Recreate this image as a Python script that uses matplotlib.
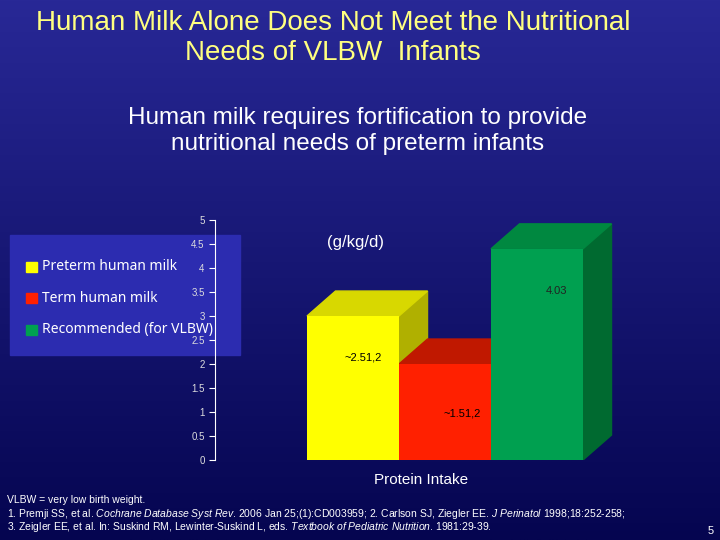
import matplotlib
matplotlib.use("Agg")
import matplotlib.pyplot as plt
import numpy as np
from matplotlib.patches import Polygon, Rectangle

plt.rcParams['font.family'] = ['Liberation Sans', 'DejaVu Sans']
plt.rcParams['mathtext.fontset'] = 'custom'
plt.rcParams['mathtext.rm'] = 'Liberation Sans'
plt.rcParams['mathtext.it'] = 'Liberation Sans:italic'

categories = ["Preterm human milk", "Term human milk", "Recommended (for VLBW)"]
values = [3.0, 2.0, 4.4]
labels = ["~2.51,2", "~1.51,2", "4.03"]
front = ["#ffff00", "#ff2000", "#00a050"]
side = ["#b0b000", "#a01000", "#006a30"]
top = ["#d8d800", "#c01800", "#008840"]
yticks = [0, 0.5, 1, 1.5, 2, 2.5, 3, 3.5, 4, 4.5, 5]

W, H = 720, 540
fig = plt.figure(figsize=(7.2, 5.4), dpi=100)

bg = fig.add_axes([0, 0, 1, 1])
g = np.linspace(0, 1, 256)[:, None]
c0 = np.array([40, 40, 150]) / 255
c1 = np.array([5, 5, 80]) / 255
img = c0[None, None, :] * (1 - g[..., None]) + c1[None, None, :] * g[..., None]
img = np.repeat(img, 2, axis=1)
bg.imshow(img, aspect='auto', extent=[0, 1, 0, 1])
bg.set_xlim(0, 1); bg.set_ylim(0, 1); bg.axis('off')
bg.add_patch(Rectangle((10 / W, 1 - 355 / H), 230 / W, 120 / H, color="#2c2cb0", zorder=2))

def T(x, y, s, **kw):
    fig.text(x / W, 1 - y / H, s, **kw)

T(333, 38, "Human Milk Alone Does Not Meet the Nutritional\nNeeds of VLBW  Infants", color="#ffff80",
  fontsize=20, ha='center', va='center', linespacing=1.15)
T(358, 131, "Human milk requires fortification to provide\nnutritional needs of preterm infants", color="white",
  fontsize=17.5, ha='center', va='center', linespacing=1.2)

ax = fig.add_axes([215 / W, 1 - 460 / H, 405 / W, 240 / H])
ax.patch.set_alpha(0)
ax.set_xlim(0, 405 / 92)
ax.set_ylim(0, 5)
dx, dy = 0.31, 0.52
for i, v in enumerate(values):
    x0 = 1 + i
    ax.add_patch(Polygon([(x0 + 1, 0), (x0 + 1 + dx, dy), (x0 + 1 + dx, v + dy), (x0 + 1, v)],
                         closed=True, color=side[i], zorder=1 + i))
    ax.add_patch(Polygon([(x0, v), (x0 + dx, v + dy), (x0 + 1 + dx, v + dy), (x0 + 1, v)],
                         closed=True, color=top[i], zorder=1 + i))
ax.bar([1.5, 2.5, 3.5], values, width=1.0, color=front, zorder=5)
ax.set_yticks(yticks)
ax.set_yticklabels([f"{t:g}" for t in yticks], fontsize=7, color="#dddddd")
ax.set_xticks([])
for s in ["top", "right", "bottom"]:
    ax.spines[s].set_visible(False)
ax.spines["left"].set_color("white")
ax.tick_params(axis='y', colors="white", labelcolor="#dddddd", length=4)

T(355, 243, "(g/kg/d)", color="white", fontsize=12, ha='center', va='center')
T(557, 291, labels[2], color="#222222", fontsize=8, ha='center', va='center')
T(363, 358, labels[0], color="black", fontsize=8, ha='center', va='center')
T(462, 413, labels[1], color="black", fontsize=8, ha='center', va='center')
T(421, 480, "Protein Intake", color="white", fontsize=11, ha='center', va='center')

for i, (c, y) in enumerate(zip(categories, [267, 298, 330])):
    bg.add_patch(Rectangle((26 / W, 1 - (y + 5) / H), 11 / W, 10 / H, color=front[i], zorder=3))
    T(42, y, c, color="white", fontsize=10, ha='left', va='center', family=['Noto Sans', 'DejaVu Sans'])

T(7, 500, "VLBW = very low birth weight.", color="white", fontsize=7.5, va='center')
T(7, 514, "1. Premji SS, et al. $\\it{Cochrane\\ Database\\ Syst\\ Rev}$. 2006 Jan 25;(1):CD003959; 2. Carlson SJ, Ziegler EE. $\\it{J\\ Perinatol}$ 1998;18:252-258;",
  color="white", fontsize=7.5, va='center')
T(7, 527, "3. Zeigler EE, et al. In: Suskind RM, Lewinter-Suskind L, eds. $\\it{Textbook\\ of\\ Pediatric\\ Nutrition}$. 1981:29-39.",
  color="white", fontsize=7.5, va='center')
T(711, 531, "5", color="white", fontsize=8, ha='center', va='center')

fig.savefig("out.png", dpi=100)
